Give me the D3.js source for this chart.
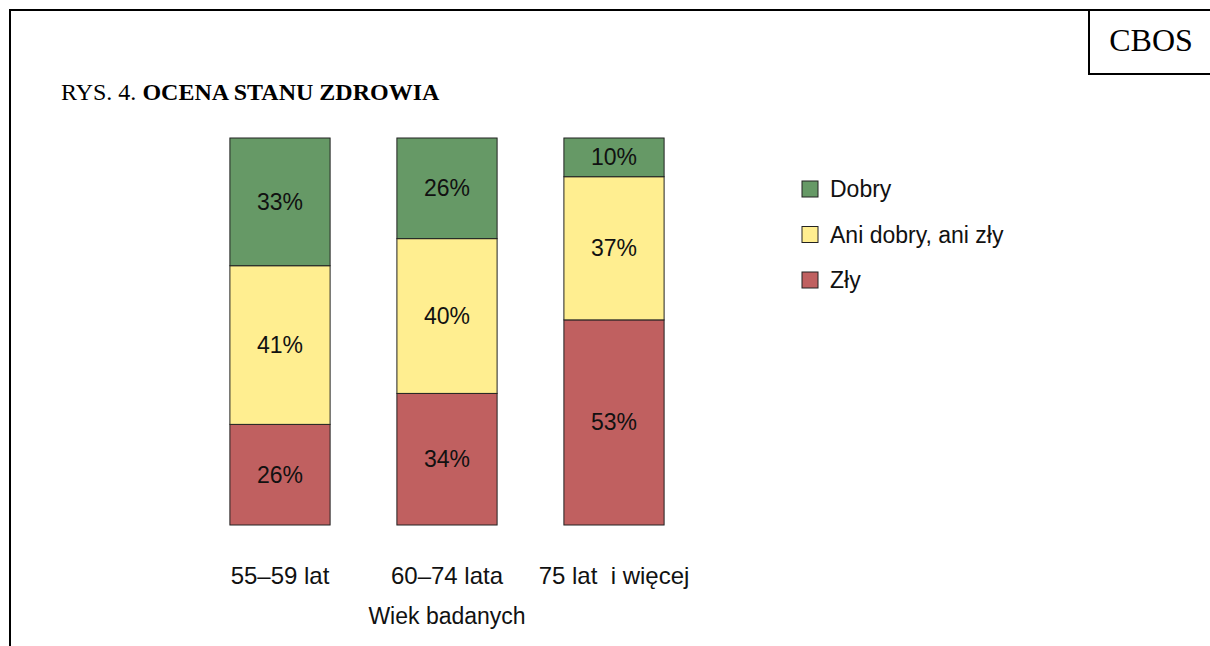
<!DOCTYPE html>
<html>
<head>
<meta charset="utf-8">
<style>
body { margin: 0; background: #fff; }
svg { display: block; }
</style>
</head>
<body>
<div id="chart"></div>
<script src="https://d3js.org/d3.v7.min.js"></script>
<script>
const categories = ["55–59 lat", "60–74 lata", "75 lat  i więcej"]
const seriesNames = ["Zły", "Ani dobry, ani zły", "Dobry"]
const zly = [26, 34, 53]
const ani = [41, 40, 37]
const dobry = [33, 26, 10]
const colors = ["#c06060", "#ffee90", "#669966"]

const W = 1210, H = 646
const svg = d3.select("#chart").append("svg")
    .attr("width", W)
    .attr("height", H)

// outer frame and CBOS box
svg.append("path")
    .attr("d", "M10," + (H + 5) + " V10 H" + (W + 5))
    .attr("fill", "none").attr("stroke", "#000").attr("stroke-width", 2)
svg.append("path")
    .attr("d", "M1089,10 V74 H" + (W + 5))
    .attr("fill", "none").attr("stroke", "#000").attr("stroke-width", 2)
svg.append("text")
    .attr("x", 1151).attr("y", 51)
    .attr("text-anchor", "middle")
    .style("font", "32px 'Liberation Serif', 'Times New Roman', serif")
    .text("CBOS")

const title = svg.append("text")
    .attr("x", 61).attr("y", 100)
    .style("font", "24px 'Liberation Serif', 'Times New Roman', serif")
title.append("tspan").text("RYS. 4. ")
title.append("tspan").attr("font-weight", "bold").text("OCENA STANU ZDROWIA")

// scales
const x = d3.scaleBand()
    .domain(categories)
    .range([196.5, 697.5])
    .paddingInner(0.4)
    .paddingOuter(0.2)
const y = d3.scaleLinear()
    .domain([0, 100])
    .range([525, 138])

const rows = categories.map((c, i) => ({cat: c, "Zły": zly[i], "Ani dobry, ani zły": ani[i], "Dobry": dobry[i]}))
const stacked = d3.stack().keys(seriesNames)(rows)

const sans = "Arial, 'Liberation Sans', sans-serif"

const groups = svg.selectAll(".series")
    .data(stacked)
    .enter().append("g")
    .attr("fill", (d, i) => colors[i])

groups.selectAll("rect")
    .data(d => d)
    .enter().append("rect")
    .attr("x", d => x(d.data.cat))
    .attr("width", x.bandwidth())
    .attr("y", d => y(d[1]))
    .attr("height", d => y(d[0]) - y(d[1]))
    .attr("stroke", "#222")
    .attr("stroke-width", 1)

groups.selectAll("text")
    .data(d => d)
    .enter().append("text")
    .attr("x", d => x(d.data.cat) + x.bandwidth() / 2)
    .attr("y", d => (y(d[0]) + y(d[1])) / 2)
    .attr("dy", "0.35em")
    .attr("text-anchor", "middle")
    .attr("fill", "#111")
    .style("font", "23px " + sans)
    .text(d => Math.round(d[1] - d[0]) + "%")

// category axis
svg.append("g")
    .attr("transform", "translate(0,525)")
    .call(d3.axisBottom(x).tickSize(0))
    .call(g => g.select(".domain").remove())
    .selectAll("text")
    .attr("y", 51)
    .attr("dy", "0.35em")
    .attr("fill", "#111")
    .style("font", "24px " + sans)
    .style("white-space", "pre")

svg.append("text")
    .attr("x", x(categories[1]) + x.bandwidth() / 2)
    .attr("y", 624)
    .attr("text-anchor", "middle")
    .attr("fill", "#111")
    .style("font", "23px " + sans)
    .text("Wiek badanych")

// legend
const legendOrder = ["Dobry", "Ani dobry, ani zły", "Zły"]
const leg = svg.selectAll(".leg")
    .data(legendOrder)
    .enter().append("g")
    .attr("transform", (d, i) => "translate(802," + (181 + i * 45.5) + ")")
leg.append("rect")
    .attr("width", 16).attr("height", 16)
    .attr("fill", d => colors[seriesNames.indexOf(d)])
    .attr("stroke", "#222")
leg.append("text")
    .attr("x", 28).attr("y", 8)
    .attr("dy", "0.35em")
    .attr("fill", "#111")
    .style("font", "23px " + sans)
    .text(d => d)
</script>
</body>
</html>
